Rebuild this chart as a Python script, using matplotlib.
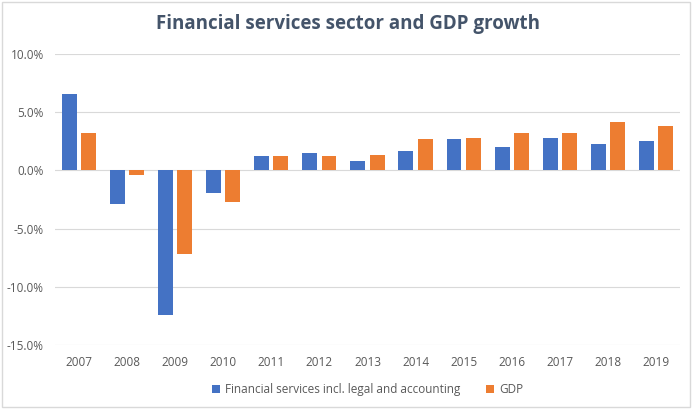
import numpy as np
import matplotlib.pyplot as plt
from matplotlib.patches import Rectangle

years = ['2007', '2008', '2009', '2010', '2011', '2012', '2013',
         '2014', '2015', '2016', '2017', '2018', '2019']
fin_services = [6.6, -2.9, -12.4, -1.9, 1.2, 1.5, 0.8, 1.7, 2.7, 2.0, 2.8, 2.3, 2.5]
gdp = [3.2, -0.4, -7.2, -2.7, 1.2, 1.2, 1.3, 2.7, 2.8, 3.2, 3.2, 4.2, 3.8]
y_ticks = [-15, -10, -5, 0, 5, 10]

plt.rcParams['font.family'] = ['Open Sans', 'DejaVu Sans']

fig = plt.figure(figsize=(6.96, 4.09), dpi=100)
ax = fig.add_axes([0.079, 0.156, 0.898, 0.712])

x = np.arange(len(years))
w = 0.31
ax.bar(x - 0.2, fin_services, w, color='#4472C4', label='Financial services incl. legal and accounting', zorder=3)
ax.bar(x + 0.2, gdp, w, color='#ED7D31', label='GDP', zorder=3)

ax.set_xlim(-0.5, len(years) - 0.5)
ax.set_ylim(-15, 10)
ax.set_yticks(y_ticks)
ax.set_yticklabels([f'{v:.1f}%' for v in y_ticks])
ax.set_xticks(x)
ax.set_xticklabels(years)
ax.yaxis.grid(True, color='#D9D9D9', linewidth=0.8, zorder=0)
ax.tick_params(length=0, labelsize=8.5, labelcolor='#595959', pad=8)
ax.tick_params(axis='x', pad=8)
for s in ax.spines.values():
    s.set_visible(False)

fig.suptitle('Financial services sector and GDP growth', x=0.5, y=0.965,
             fontsize=13.5, fontweight='bold', color='#44546A')

ax.legend(loc='upper center', bbox_to_anchor=(0.5, -0.095), ncol=2, frameon=False,
          fontsize=8.5, labelcolor='#595959', handlelength=0.7, handleheight=0.7,
          handletextpad=0.4, columnspacing=2.2)

fig.patches.append(Rectangle((0.003, 0.005), 0.989, 0.99, transform=fig.transFigure,
                             fill=False, edgecolor='#D9D9D9', linewidth=1))

fig.savefig('out.png', dpi=100)
